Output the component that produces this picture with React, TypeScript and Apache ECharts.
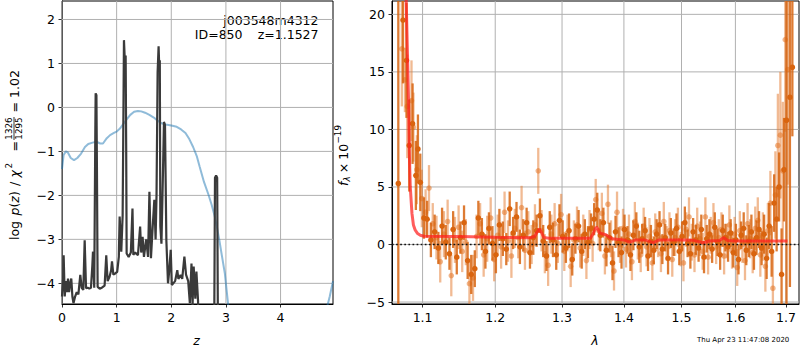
import React, { useEffect, useRef } from 'react';
import * as echarts from 'echarts';

const FONT = '"DejaVu Sans", "Liberation Sans", sans-serif';

// ---------- left panel ----------
const Z_TICKS = [0, 1, 2, 3, 4];
const LOGP_TICKS = [-4, -3, -2, -1, 0, 1, 2];

const pzChi2: [number, number][] = [
  [0.0, -4.3], [0.02, -3.9], [0.03, -3.36], [0.05, -4.3], [0.07, -3.95], [0.09, -4.2], [0.11, -3.89], [0.13, -4.2],
  [0.15, -4.0], [0.17, -3.89], [0.19, -4.3], [0.21, -4.45], [0.24, -4.3], [0.27, -4.2], [0.3, -4.25], [0.335, -3.81],
  [0.36, -4.1], [0.39, -4.15], [0.415, -3.02], [0.44, -4.11], [0.47, -4.1], [0.5, -4.12], [0.53, -4.1], [0.555, -3.6],
  [0.567, -3.28], [0.59, -4.1], [0.61, -0.5], [0.616, 0.32], [0.63, 0.28], [0.64, -1.5], [0.652, -4.08], [0.69, -4.12],
  [0.73, -4.1], [0.78, -4.05], [0.81, -3.36], [0.835, -3.95], [0.87, -3.85], [0.9, -3.7], [0.915, -3.5], [0.94, -3.8],
  [0.98, -3.77], [1.01, -3.74], [1.04, -3.4], [1.055, -2.48], [1.085, -3.28], [1.11, -2.45], [1.125, 0.0], [1.134, 1.53],
  [1.145, 1.2], [1.155, 1.0], [1.165, 1.18], [1.175, -1.0], [1.183, -3.32], [1.22, -3.4], [1.26, -3.3], [1.29, -2.3],
  [1.305, -3.35], [1.34, -3.3], [1.39, -3.36], [1.43, -2.71], [1.45, -3.3], [1.475, -2.94], [1.5, -3.4], [1.54, -3.0],
  [1.575, -3.4], [1.6, -1.92], [1.628, -3.43], [1.66, -2.71], [1.69, -2.1], [1.713, -3.0], [1.73, -2.0], [1.75, 0.8],
  [1.768, 1.39], [1.78, 0.9], [1.79, 1.07], [1.8, -2.7], [1.82, -3.1], [1.85, -1.35], [1.866, -0.33], [1.885, -0.4],
  [1.91, -3.02], [1.94, -4.0], [1.96, -3.75], [1.99, -3.24], [2.01, -4.04], [2.07, -3.95], [2.11, -3.7], [2.13, -3.9],
  [2.17, -3.81], [2.2, -3.9], [2.24, -3.39], [2.27, -3.8], [2.31, -3.95], [2.34, -4.45], [2.37, -3.55], [2.39, -4.5],
  [2.41, -3.62], [2.44, -4.35], [2.46, -3.73], [2.49, -4.4], [2.5, -5.5], [2.52, -6.5], [2.78, -6.5], [2.8, -1.6],
  [2.82, -1.55], [2.84, -1.6], [2.86, -6.5], [3.0, -12], [4.95, -20],
];

const pzBlue: [number, number][] = [
  [0, -1.4], [0.03, -1.08], [0.07, -1.0], [0.11, -1.03], [0.16, -1.15], [0.22, -1.2], [0.28, -1.15], [0.35, -1.05],
  [0.42, -0.9], [0.48, -0.83], [0.56, -0.8], [0.63, -0.78], [0.7, -0.82], [0.75, -0.82], [0.82, -0.7], [0.88, -0.63],
  [0.95, -0.58], [1.0, -0.55], [1.06, -0.48], [1.12, -0.38], [1.18, -0.28], [1.25, -0.17], [1.32, -0.1], [1.39, -0.08],
  [1.45, -0.09], [1.52, -0.12], [1.6, -0.17], [1.68, -0.23], [1.75, -0.3], [1.82, -0.36], [1.9, -0.39], [2.0, -0.41],
  [2.1, -0.44], [2.18, -0.5], [2.26, -0.58], [2.33, -0.72], [2.4, -0.9], [2.47, -1.12], [2.52, -1.35], [2.6, -1.7],
  [2.68, -1.98], [2.74, -2.22], [2.79, -2.45], [2.84, -2.75], [2.88, -3.02], [2.93, -3.4], [2.98, -3.77], [3.04, -4.47],
  [3.1, -5.0], [3.3, -6.5], [4.0, -7.5], [4.5, -6.5], [4.8, -4.8], [4.9, -4.3], [4.96, -3.95],
];

// ---------- right panel ----------
const LAMBDA_TICKS = [1.1, 1.2, 1.3, 1.4, 1.5, 1.6, 1.7];
const FLUX_TICKS = [-5, 0, 5, 10, 15, 20];

const lamA = [
  1.0685, 1.0745, 1.079, 1.0826, 1.0869, 1.0912, 1.0939, 1.097, 1.1018, 1.106, 1.111,
  1.116, 1.121, 1.126, 1.131, 1.136, 1.141, 1.146, 1.151, 1.156, 1.161,
  1.166, 1.171, 1.176, 1.181, 1.186, 1.191, 1.196, 1.201, 1.206, 1.211,
  1.216, 1.221, 1.226, 1.231, 1.236, 1.241, 1.246, 1.251, 1.256, 1.261,
  1.266, 1.271, 1.276, 1.281, 1.286, 1.291, 1.296, 1.301, 1.306, 1.311,
  1.316, 1.321, 1.326, 1.331, 1.336, 1.341, 1.346, 1.351, 1.356, 1.361,
  1.366, 1.371, 1.376, 1.381, 1.386, 1.391, 1.396, 1.401, 1.406, 1.411,
  1.416, 1.421, 1.426, 1.431, 1.436, 1.441, 1.446, 1.451, 1.456, 1.461,
  1.466, 1.471, 1.476, 1.481, 1.486, 1.491, 1.496, 1.501, 1.506, 1.511,
  1.516, 1.521, 1.526, 1.531, 1.536, 1.541, 1.546, 1.551, 1.556, 1.561,
  1.566, 1.571, 1.576, 1.581, 1.586, 1.591, 1.596, 1.601, 1.606, 1.611,
  1.616, 1.621, 1.626, 1.631, 1.636, 1.641, 1.646, 1.651, 1.656, 1.661,
  1.666, 1.671, 1.676, 1.681, 1.686, 1.691, 1.696, 1.701, 1.708, 1.713,
];
const fluxA = [
  5.3, 19.5, 16.0, 8.6, 10.5, 6.0, 8.3, 5.4, 2.3, 2.2, 0.4,
  1.1, -0.3, 1.6, 0.2, -0.8, 1.3, -1.1, 0.6, 1.9, -1.4,
  -2.6, -2.1, 2.3, 0.9, -0.6, 1.4, 0.1, -0.9, 1.7, 0.5,
  -0.4, 3.1, 1.0, 2.4, -0.2, 0.8, 1.9, -0.7, 0.6, 1.2,
  2.5, 0.3, -1.0, 1.5, 0.4, -0.9, 2.1, 0.7, -0.3, 1.2,
  -1.3, 0.5, 1.6, -0.6, 0.9, 0.2, 1.4, 2.2, 3.0, 0.8,
  1.9, -0.5, 0.6, -1.6, 1.1, 0.2, -0.7, 1.3, 0.4, -0.9,
  0.8, 1.6, -0.2, 0.5, 1.2, -1.0, 0.3, -0.5, 0.9, 1.7,
  -0.4, 0.6, -1.2, 1.0, 0.2, 1.4, -0.6, 0.7, 1.9, 0.1,
  -0.8, 1.1, 0.4, -0.3, 1.3, -1.1, 0.5, 0.9, -0.4, 1.5,
  0.2, -0.9, 1.2, 0.6, -0.2, 1.0, -0.7, 0.4, -1.3, 0.8,
  1.4, -0.5, 0.3, 1.1, -0.8, 0.6, 1.3, -0.3, 0.9, -1.2,
  1.6, -0.6, 3.6, 2.2, 5.0, -2.6, 6.5, 10.8, 12.8, 15.4,
];
const errA = [
  40, 5.5, 5, 4, 3.5, 3, 3, 2.5, 1.8, 1.6, 1.5,
  1.5, 1.4, 1.6, 1.5, 1.4, 1.6, 1.5, 1.4, 1.5, 1.6,
  1.7, 1.6, 1.5, 1.4, 1.5, 1.4, 1.5, 1.6, 1.4, 1.5,
  1.4, 1.5, 1.4, 1.3, 1.5, 1.4, 1.3, 1.4, 1.5, 1.4,
  1.5, 1.4, 1.3, 1.4, 1.5, 1.3, 1.4, 1.4, 1.3, 1.5,
  1.4, 1.3, 1.4, 1.5, 1.3, 1.4, 1.3, 1.4, 1.5, 1.4,
  1.3, 1.4, 1.3, 1.5, 1.4, 1.3, 1.4, 1.3, 1.2, 1.4,
  1.3, 1.2, 1.4, 1.3, 1.2, 1.3, 1.4, 1.2, 1.3, 1.2,
  1.3, 1.2, 1.4, 1.3, 1.2, 1.3, 1.2, 1.3, 1.4, 1.2,
  1.3, 1.2, 1.3, 1.2, 1.3, 1.4, 1.2, 1.3, 1.2, 1.3,
  1.2, 1.3, 1.4, 1.2, 1.3, 1.2, 1.3, 1.4, 1.3, 1.2,
  1.4, 1.3, 1.4, 1.5, 1.4, 1.5, 1.6, 1.5, 1.7, 1.8,
  2.0, 2.2, 2.5, 2.8, 3.0, 4.0, 4.5, 40, 16.5, 6,
];

const lamB = [
  1.073, 1.077, 1.08, 1.0855, 1.088, 1.0925, 1.099, 1.104, 1.1085, 1.1135,
  1.1185, 1.1235, 1.1285, 1.1335, 1.1385, 1.1435, 1.1485, 1.1535, 1.1585, 1.1635,
  1.1685, 1.1735, 1.1785, 1.1835, 1.1885, 1.1935, 1.1985, 1.2035, 1.2085, 1.2135,
  1.2185, 1.2235, 1.2285, 1.2335, 1.2385, 1.2435, 1.2485, 1.2535, 1.2585, 1.2635,
  1.2685, 1.2735, 1.2785, 1.2835, 1.2885, 1.2935, 1.2985, 1.3035, 1.3085, 1.3135,
  1.3185, 1.3235, 1.3285, 1.3335, 1.3385, 1.3435, 1.3485, 1.3535, 1.3585, 1.3635,
  1.3685, 1.3735, 1.3785, 1.3835, 1.3885, 1.3935, 1.3985, 1.4035, 1.4085, 1.4135,
  1.4185, 1.4235, 1.4285, 1.4335, 1.4385, 1.4435, 1.4485, 1.4535, 1.4585, 1.4635,
  1.4685, 1.4735, 1.4785, 1.4835, 1.4885, 1.4935, 1.4985, 1.5035, 1.5085, 1.5135,
  1.5185, 1.5235, 1.5285, 1.5335, 1.5385, 1.5435, 1.5485, 1.5535, 1.5585, 1.5635,
  1.5685, 1.5735, 1.5785, 1.5835, 1.5885, 1.5935, 1.5985, 1.6035, 1.6085, 1.6135,
  1.6185, 1.6235, 1.6285, 1.6335, 1.6385, 1.6435, 1.6485, 1.6535, 1.6585, 1.6635,
  1.6685, 1.6735, 1.6785, 1.6835, 1.6885, 1.6935, 1.6985, 1.7035,
];
const fluxB = [
  17.0, 14.3, 12.0, 12.5, 10.2, 6.5, 4.0, 2.8, 4.9, 1.8,
  0.6, -1.5, 0.9, 2.0, -2.7, 0.4, 1.5, -0.6, 0.2, -3.4,
  -2.9, 0.7, 1.8, -0.9, 0.5, 2.3, -1.3, 0.8, -0.2, 2.8,
  0.3, -1.0, 1.4, 0.6, 3.2, -0.5, 1.1, 0.0, 1.7, 6.4,
  1.2, -0.8, -1.8, 0.9, 1.8, 0.1, 2.6, -0.6, 1.0, -1.9,
  0.4, 1.7, -0.3, 0.8, -1.4, 1.3, 0.1, 3.9, 1.2, 2.7,
  -1.0, 3.5, 0.5, -2.3, 2.8, 0.0, 1.4, -0.4, 0.9, -1.5,
  2.0, 0.3, -0.9, 1.6, -0.2, 0.7, -1.6, 1.1, 0.4, -0.8,
  2.0, 0.1, 1.2, -1.3, 0.6, 1.5, -0.4, -1.6, 1.3, 2.4,
  0.2, -0.9, 1.6, 0.5, -0.6, 2.4, -1.1, 0.8, 1.9, -0.2,
  0.6, 1.3, -1.0, 0.3, 1.7, -0.5, 0.9, -2.0, 1.2, 0.0,
  -1.4, 1.8, 0.5, -0.7, 1.4, 2.1, -0.9, 0.7, -1.9, 1.2,
  3.6, -3.8, 4.3, 8.6, 9.5, 6.4, 17.8, 15.2,
];
const errB = [
  5, 2.8, 4.5, 3.5, 3, 3, 2.5, 2.0, 2.0, 1.8,
  1.9, 1.8, 2.0, 1.9, 1.8, 2.0, 1.9, 1.8, 2.0, 1.9,
  2.0, 1.9, 1.8, 1.9, 2.0, 1.8, 1.9, 1.8, 1.9, 1.8,
  1.8, 1.9, 1.7, 1.8, 1.9, 1.7, 1.8, 1.7, 1.8, 2.0,
  1.8, 1.7, 1.8, 1.7, 1.8, 1.7, 1.8, 1.7, 1.6, 1.8,
  1.7, 1.6, 1.7, 1.8, 1.6, 1.7, 1.6, 1.8, 1.7, 1.8,
  1.6, 1.7, 1.6, 1.7, 1.8, 1.6, 1.7, 1.6, 1.7, 1.6,
  1.7, 1.6, 1.5, 1.6, 1.7, 1.6, 1.5, 1.6, 1.5, 1.6,
  1.7, 1.5, 1.6, 1.5, 1.6, 1.7, 1.5, 1.6, 1.5, 1.7,
  1.6, 1.5, 1.6, 1.5, 1.6, 1.7, 1.5, 1.6, 1.7, 1.5,
  1.6, 1.5, 1.6, 1.5, 1.7, 1.6, 1.5, 1.6, 1.7, 1.6,
  1.7, 1.8, 1.7, 1.8, 1.9, 2.0, 1.9, 2.1, 2.2, 2.4,
  2.8, 3.2, 3.8, 4.5, 5.5, 6.0, 8.0, 10.0,
];

const modelLam = [
  1.075, 1.0787, 1.0817, 1.0826, 1.0839, 1.0861, 1.088, 1.0904, 1.0935, 1.097, 1.102,
  1.15, 1.2, 1.25, 1.258, 1.262, 1.265, 1.268, 1.272, 1.28, 1.3, 1.345, 1.35, 1.354, 1.356,
  1.36, 1.37, 1.38, 1.4, 1.41, 1.42, 1.435, 1.445, 1.45, 1.46, 1.5, 1.52, 1.54, 1.55,
  1.57, 1.578, 1.585, 1.6, 1.65, 1.703,
];
const modelFlux = [
  35, 21, 12.5, 8.2, 5.0, 2.7, 1.7, 1.24, 0.95, 0.8, 0.72,
  0.7, 0.62, 0.58, 0.7, 1.1, 1.35, 1.1, 0.6, 0.55, 0.55, 0.55, 1.0, 1.5, 1.45,
  1.0, 0.85, 0.5, 0.4, 0.2, 0.4, 0.4, 0.25, 0.15, 0.4, 0.4, 0.38, 0.15, 0.3,
  0.35, 0.6, 0.35, 0.3, 0.3, 0.3,
];

const LOG_MIN = 0.025486;
const LOG_MAX = 0.237207;

const minus = (v: number) => String(v).replace('-', '\u2212');

function errRender(barColor: string, dotColor: string) {
  return (params: any, api: any) => {
    const x = api.value(0);
    const y = api.value(1);
    const e = api.value(2);
    const cs = params.coordSys;
    const c = api.coord([x, y]);
    const t = api.coord([x, y + e]);
    const b = api.coord([x, y - e]);
    const lo = cs.y;
    const hi = cs.y + cs.height;
    const y0 = Math.max(lo, Math.min(hi, t[1]));
    const y1 = Math.max(lo, Math.min(hi, b[1]));
    const children: any[] = [];
    if (y1 > y0) {
      children.push({
        type: 'line',
        shape: { x1: c[0], y1: y0, x2: c[0], y2: y1 },
        style: { stroke: barColor, lineWidth: 2.3 },
      });
    }
    if (c[1] >= lo && c[1] <= hi) {
      children.push({
        type: 'circle',
        shape: { cx: c[0], cy: c[1], r: 2.8 },
        style: { fill: dotColor },
      });
    }
    return { type: 'group', children };
  };
}

// grid line renderer: item = [value, kind] (kind 0 = vertical at x=value, 1 = horizontal at y=value)
function gridRender(params: any, api: any) {
  const v = api.value(0);
  const kind = api.value(1);
  const cs = params.coordSys;
  if (kind === 0) {
    const p = api.coord([v, 0]);
    return {
      type: 'line',
      shape: { x1: p[0], y1: cs.y, x2: p[0], y2: cs.y + cs.height },
      style: { stroke: '#b0b0b0', lineWidth: 1 },
      silent: true,
    };
  }
  const q = api.coord([0, v]);
  return {
    type: 'line',
    shape: { x1: cs.x, y1: q[1], x2: cs.x + cs.width, y2: q[1] },
    style: { stroke: '#b0b0b0', lineWidth: 1 },
    silent: true,
  };
}

function txt(text: string, x: number, y: number, size: number, opts: any = {}) {
  return {
    type: 'text',
    x,
    y,
    silent: true,
    style: {
      text,
      fontSize: size,
      fontFamily: FONT,
      fontStyle: opts.italic ? 'italic' : 'normal',
      fill: '#000',
      align: opts.align || 'left',
      textAlign: opts.align || 'left',
      verticalAlign: 'middle',
      textVerticalAlign: 'middle',
    },
  };
}

function axisCommon(ticks: number[], fmt: (v: number) => string) {
  return {
    axisLine: { show: true, onZero: false, lineStyle: { color: '#000', width: 1 } },
    axisTick: { show: true, inside: false, length: 3.5, customValues: ticks, lineStyle: { color: '#000', width: 0.8 } },
    axisLabel: { customValues: ticks, fontSize: 12.5, fontFamily: FONT, color: '#000', margin: 7, formatter: fmt },
    splitLine: { show: false },
  };
}

export default function App() {
  const ref = useRef<HTMLDivElement>(null);

  useEffect(() => {
    const chart = echarts.init(ref.current!, null, { renderer: 'svg' });

    const dataA = lamA.map((l, i) => [Math.log10(l), fluxA[i], errA[i]]);
    const dataB = lamB.map((l, i) => [Math.log10(l), fluxB[i], errB[i]]);
    const model = modelLam.map((l, i) => [Math.log10(l), modelFlux[i]]);
    const lamTicksLog = LAMBDA_TICKS.map((v) => Math.log10(v));

    const leftGrid = [...Z_TICKS.map((v) => [v, 0]), ...LOGP_TICKS.map((v) => [v, 1])];
    const rightGrid = [...lamTicksLog.map((v) => [v, 0]), ...FLUX_TICKS.map((v) => [v, 1])];

    const option: any = {
      animation: false,
      backgroundColor: '#fff',
      grid: [
        { left: 62, top: 1, width: 271, height: 303, show: true, borderColor: '#000', borderWidth: 1, backgroundColor: 'transparent', outerBoundsMode: 'none' },
        { left: 392, top: 1, width: 407, height: 303, show: true, borderColor: '#000', borderWidth: 1, backgroundColor: 'transparent', outerBoundsMode: 'none' },
      ],
      xAxis: [
        { type: 'value', gridIndex: 0, min: 0, max: 4.96, ...axisCommon(Z_TICKS, (v: number) => minus(v)) },
        {
          type: 'value', gridIndex: 1, min: LOG_MIN, max: LOG_MAX,
          ...axisCommon(lamTicksLog, (v: number) => Math.pow(10, v).toFixed(1)),
        },
      ],
      yAxis: [
        { type: 'value', gridIndex: 0, min: -4.47, max: 2.42, ...axisCommon(LOGP_TICKS, (v: number) => minus(v)) },
        { type: 'value', gridIndex: 1, min: -5.17, max: 21.16, ...axisCommon(FLUX_TICKS, (v: number) => minus(v)) },
      ],
      series: [
        {
          type: 'custom', xAxisIndex: 0, yAxisIndex: 0, data: leftGrid, z: 1, silent: true,
          encode: { x: 0, y: 1 }, renderItem: gridRender,
        },
        {
          type: 'custom', xAxisIndex: 1, yAxisIndex: 1, data: rightGrid, z: 1, silent: true,
          encode: { x: 0, y: 1 }, renderItem: gridRender,
        },
        {
          type: 'line', xAxisIndex: 0, yAxisIndex: 0, data: pzBlue, showSymbol: false, smooth: false, z: 2,
          lineStyle: { color: 'rgba(31,119,180,0.5)', width: 2 },
        },
        {
          type: 'line', xAxisIndex: 0, yAxisIndex: 0, data: pzChi2, showSymbol: false, z: 3,
          lineStyle: { color: '#3a3a3a', width: 2.2 },
        },
        {
          type: 'custom', xAxisIndex: 1, yAxisIndex: 1, data: dataB, z: 2, clip: true,
          encode: { x: 0, y: 1 },
          renderItem: errRender('rgba(228,118,40,0.5)', 'rgba(228,118,40,0.55)'),
        },
        {
          type: 'custom', xAxisIndex: 1, yAxisIndex: 1, data: dataA, z: 3, clip: true,
          encode: { x: 0, y: 1 },
          renderItem: errRender('rgba(215,100,15,0.85)', '#d9640f'),
        },
        {
          type: 'line', xAxisIndex: 1, yAxisIndex: 1, data: model, showSymbol: false, z: 4,
          lineStyle: { color: 'rgba(255,30,30,0.72)', width: 3 },
        },
        {
          type: 'line', xAxisIndex: 1, yAxisIndex: 1, data: [[LOG_MIN, 0], [LOG_MAX, 0]], showSymbol: false, z: 5,
          lineStyle: { color: '#111', width: 1.7, type: [1.7, 2.4] },
        },
      ],
      graphic: [
        txt('j003548m4312', 318.5, 20, 12.5, { align: 'right' }),
        txt('ID=850', 242.5, 34, 12.5, { align: 'right' }),
        txt('z=1.1527', 318.5, 34, 12.5, { align: 'right' }),
        txt('z', 196.5, 340, 12.5, { italic: true, align: 'center' }),
        txt('\u03bb', 595, 340, 12.5, { italic: true, align: 'center' }),
        txt('Thu Apr 23 11:47:08 2020', 697, 339.5, 7),
        {
          type: 'group', x: 14, y: 240, rotation: Math.PI / 2, silent: true,
          children: [
            txt('log', 0, 0, 12.5),
            txt('p', 24.5, 0, 12.5, { italic: true }),
            txt('(', 32.4, 0, 12.5),
            txt('z', 37.3, 0, 12.5, { italic: true }),
            txt(')', 43.9, 0, 12.5),
            txt('/', 54, 0, 12.5),
            txt('\u03c7', 62.5, 0, 12.5, { italic: true }),
            txt('2', 71.5, -5, 8.75),
            txt('=', 88.5, 0, 12.5),
            txt('1326', 111.5, -4.6, 8.75, { align: 'center' }),
            txt('1295', 111.5, 4.8, 8.75, { align: 'center' }),
            { type: 'line', shape: { x1: 100, y1: 0, x2: 123, y2: 0 }, style: { stroke: '#000', lineWidth: 0.8 } },
            txt('=', 127.5, 0, 12.5),
            txt('1.02', 142, 0, 12.5),
          ],
        },
        {
          type: 'group', x: 343, y: 186, rotation: Math.PI / 2, silent: true,
          children: [
            txt('f', 0, 0, 12.5, { italic: true }),
            txt('\u03bb', 4.6, 3.5, 8.75, { italic: true }),
            txt('\u00d7', 12.8, 0, 12.5),
            txt('10', 26.3, 0, 12.5),
            txt('\u221219', 42.5, -5.5, 8.75),
          ],
        },
      ],
    };

    chart.setOption(option);
    return () => chart.dispose();
  }, []);

  return <div ref={ref} style={{ position: 'fixed', left: 0, top: 0, width: 800, height: 350 }} />;
}
